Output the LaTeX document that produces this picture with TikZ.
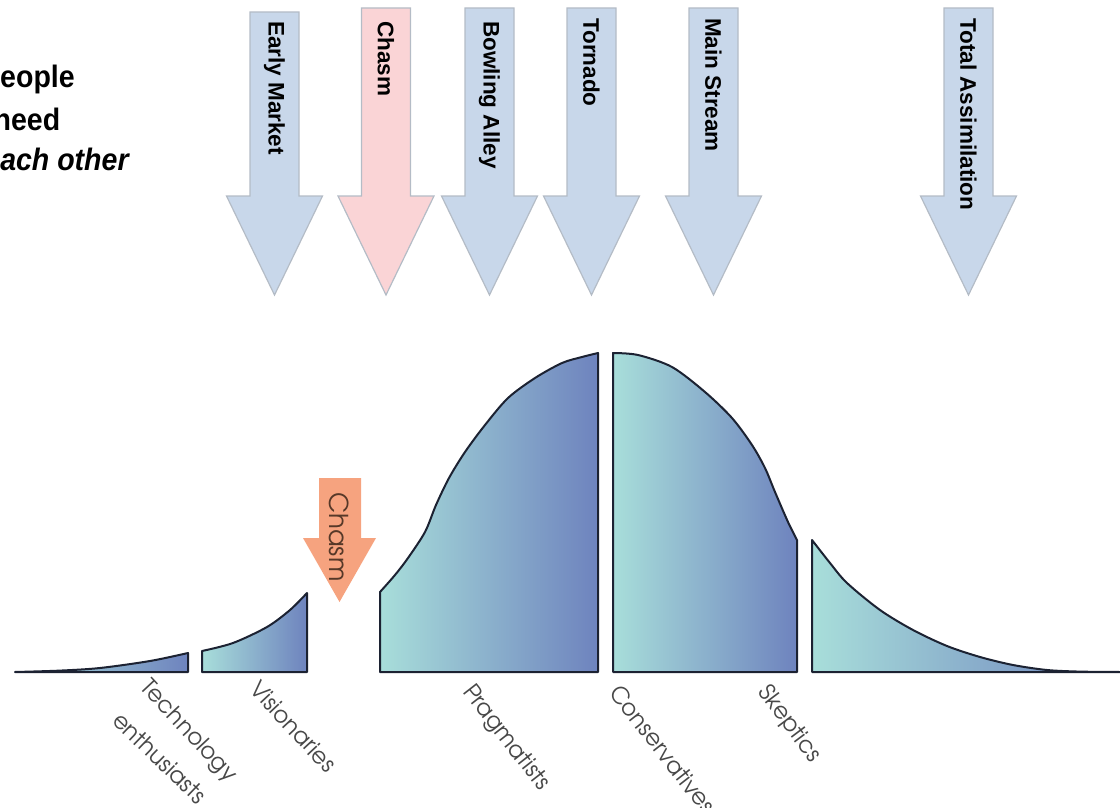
\documentclass[tikz,border=0pt]{standalone}
\usepackage{fontspec}
\setmainfont{Liberation Sans}
\newfontfamily\gothic{TeX Gyre Adventor}

\definecolor{arrowblue}{RGB}{200,215,234}
\definecolor{arrowpink}{RGB}{250,212,214}
\definecolor{arrowedge}{RGB}{180,188,198}
\definecolor{curveleft}{RGB}{168,222,218}
\definecolor{curveright}{RGB}{110,131,190}
\definecolor{curveedge}{RGB}{28,34,50}
\definecolor{chasmorange}{RGB}{246,163,127}
\definecolor{chasmtext}{RGB}{86,56,40}
\definecolor{labelgray}{RGB}{72,72,72}

\tikzset{
  phase arrow/.style={draw=arrowedge, line width=1.2pt, line join=miter},
  phase label/.style={rotate=-90, anchor=west, inner sep=0pt,
    font=\fontsize{22.5}{24}\selectfont\bfseries, text=black},
  segment/.style={draw=curveedge, line width=2pt, line join=round,
    left color=curveleft, right color=curveright},
  group label/.style={anchor=base west, inner sep=0pt,
    font=\gothic\fontsize{23}{24}\selectfont, text=labelgray},
  motto/.style={anchor=base west, inner sep=0pt,
    font=\fontsize{31}{32}\selectfont\bfseries},
}

% narrower setting of the slogan lines
\newcommand{\narrow}[1]{\scalebox{0.92}[1]{#1}}

% centre x, top y, fill, node name, label y, label text
\newcommand{\phasearrow}[6]{%
  \draw[phase arrow, fill=#3] (#1-24.5,#2) -- (#1+24.5,#2) -- (#1+24.5,196)
    -- (#1+48,196) -- (#1,295) -- (#1-48,196) -- (#1-24.5,196) -- cycle;
  \node[phase label] (#4) at (#1,#5) {#6};}

\begin{document}
\begin{tikzpicture}[x=1pt, y=-1pt]
\useasboundingbox (0,0) rectangle (1120,808);

% slogan in the upper left corner
\node[motto] (m1) at (-19,88) {\narrow{People}};
\node[motto] (m2) at (-6.5,131) {\narrow{need}};
\node[motto] (m3) at (-15.8,170) {\narrow{\itshape each other}};

% phases of the market
\phasearrow{274.5}{12}{arrowblue}{early}{21}{Early Market}
\phasearrow{386}{8}{arrowpink}{chasmphase}{21}{Chasm}
\phasearrow{489.5}{8}{arrowblue}{bowling}{21}{Bowling Alley}
\phasearrow{591.5}{8}{arrowblue}{tornado}{18}{Tornado}
\phasearrow{713.5}{8}{arrowblue}{mainstream}{18}{Main Stream}
\phasearrow{968.5}{8}{arrowblue}{total}{18}{Total Assimilation}

% adoption curve, split into customer groups
\path[segment] plot[smooth] coordinates {(15,672) (60,670.6) (100,668) (150,661) (188,653)}
  -- (188,672) -- cycle;
\path[segment] plot[smooth] coordinates {(202,651) (233,643) (267,627) (290,610) (307,593)}
  -- (307,672) -- (202,672) -- cycle;
\path[segment] plot[smooth] coordinates {(380,592) (395,575) (408,558) (425,532) (436,505)
  (449,478) (465,452) (485,425) (508,398) (535,378) (562,363) (582,357) (598,353)}
  -- (598,672) -- (380,672) -- cycle;
\path[segment] plot[smooth] coordinates {(613,353) (638,355) (672,367) (705,392) (732,418)
  (752,445) (765,468) (775,492) (788,522) (797,540)}
  -- (797,672) -- (613,672) -- cycle;
\path[segment] plot[smooth] coordinates {(812,540) (830,563) (847,583) (880,610) (913,630)
  (947,646) (980,657) (1013,665) (1047,670) (1080,671.6) (1120,672)}
  -- (812,672) -- cycle;

% the chasm between visionaries and pragmatists
\path[fill=chasmorange] (319,478) -- (361,478) -- (361,538) -- (376,538)
  -- (339.5,602) -- (303,538) -- (319,538) -- cycle;
\node[rotate=-90, anchor=west, inner sep=0pt, text=chasmtext,
  font=\gothic\fontsize{26}{27}\selectfont] (chasmgap) at (339.5,492) {Chasm};

% group names
\node[group label, rotate=-47] (tech1) at (139.5,688.5) {Technology};
\node[group label, rotate=-44] (tech2) at (111,722) {enthusiasts};
\node[group label, rotate=-47] (vis) at (248,690) {Visionaries};
\node[group label, rotate=-52] (prag) at (462,692) {Pragmatists};
\node[group label, rotate=-52] (cons) at (608,693) {Conservatives};
\node[group label, rotate=-53] (skep) at (757.5,692.5) {Skeptics};
\end{tikzpicture}
\end{document}
